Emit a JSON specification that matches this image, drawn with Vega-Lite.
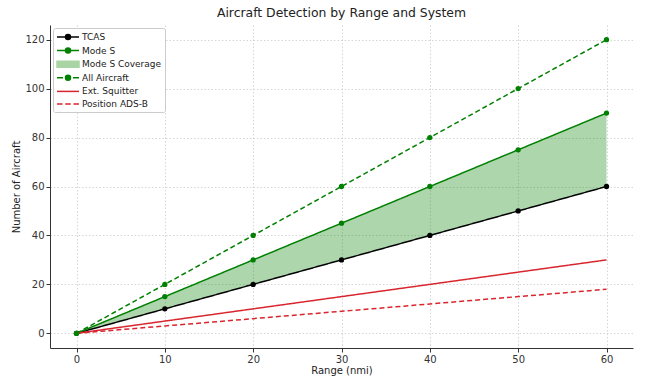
{
  "$schema": "https://vega.github.io/schema/vega-lite/v6.json",
  "autosize": "none",
  "width": 583,
  "height": 323,
  "padding": {"left": 50, "top": 25, "right": 23, "bottom": 35},
  "background": "white",
  "config": {
    "font": "DejaVu Sans",
    "view": {"stroke": null},
    "axis": {
      "labelFont": "DejaVu Sans",
      "titleFont": "DejaVu Sans",
      "labelFontSize": 10,
      "titleFontSize": 10,
      "titleFontWeight": "normal",
      "labelColor": "#333",
      "titleColor": "#222",
      "domainColor": "#333",
      "domainWidth": 1,
      "tickColor": "#333",
      "tickSize": 4,
      "labelPadding": 2,
      "grid": true,
      "gridColor": "#cccccc",
      "gridDash": [1.5, 2],
      "gridWidth": 0.8
    }
  },
  "title": {"text": "Aircraft Detection by Range and System", "fontSize": 12.4, "fontWeight": "normal", "font": "DejaVu Sans", "color": "#222", "offset": 6},
  "data": {
    "values": [
      {"series": "TCAS", "range": 0, "count": 0},
      {"series": "TCAS", "range": 10, "count": 10},
      {"series": "TCAS", "range": 20, "count": 20},
      {"series": "TCAS", "range": 30, "count": 30},
      {"series": "TCAS", "range": 40, "count": 40},
      {"series": "TCAS", "range": 50, "count": 50},
      {"series": "TCAS", "range": 60, "count": 60},
      {"series": "Mode S", "range": 0, "count": 0},
      {"series": "Mode S", "range": 10, "count": 15},
      {"series": "Mode S", "range": 20, "count": 30},
      {"series": "Mode S", "range": 30, "count": 45},
      {"series": "Mode S", "range": 40, "count": 60},
      {"series": "Mode S", "range": 50, "count": 75},
      {"series": "Mode S", "range": 60, "count": 90},
      {"series": "All Aircraft", "range": 0, "count": 0},
      {"series": "All Aircraft", "range": 10, "count": 20},
      {"series": "All Aircraft", "range": 20, "count": 40},
      {"series": "All Aircraft", "range": 30, "count": 60},
      {"series": "All Aircraft", "range": 40, "count": 80},
      {"series": "All Aircraft", "range": 50, "count": 100},
      {"series": "All Aircraft", "range": 60, "count": 120},
      {"series": "Ext. Squitter", "range": 0, "count": 0},
      {"series": "Ext. Squitter", "range": 10, "count": 5},
      {"series": "Ext. Squitter", "range": 20, "count": 10},
      {"series": "Ext. Squitter", "range": 30, "count": 15},
      {"series": "Ext. Squitter", "range": 40, "count": 20},
      {"series": "Ext. Squitter", "range": 50, "count": 25},
      {"series": "Ext. Squitter", "range": 60, "count": 30},
      {"series": "Position ADS-B", "range": 0, "count": 0},
      {"series": "Position ADS-B", "range": 10, "count": 3},
      {"series": "Position ADS-B", "range": 20, "count": 6},
      {"series": "Position ADS-B", "range": 30, "count": 9},
      {"series": "Position ADS-B", "range": 40, "count": 12},
      {"series": "Position ADS-B", "range": 50, "count": 15},
      {"series": "Position ADS-B", "range": 60, "count": 18}
    ]
  },
  "layer": [
    {
      "transform": [
        {"filter": {"field": "series", "oneOf": ["TCAS", "Mode S"]}},
        {"pivot": "series", "value": "count", "groupby": ["range"]}
      ],
      "mark": {"type": "area", "color": "#008000", "opacity": 0.32},
      "encoding": {
        "x": {"field": "range", "type": "quantitative", "scale": {"domain": [-3, 63], "nice": false, "zero": false},
              "axis": {"values": [0, 10, 20, 30, 40, 50, 60], "title": "Range (nmi)", "titlePadding": 1}},
        "y": {"field": "TCAS", "type": "quantitative", "scale": {"domain": [-6, 126], "nice": false, "zero": false},
              "axis": {"values": [0, 20, 40, 60, 80, 100, 120], "title": "Number of Aircraft", "titlePadding": 3}},
        "y2": {"field": "Mode S"}
      }
    },
    {
      "mark": {"type": "line", "strokeWidth": 1.5},
      "encoding": {
        "x": {"field": "range", "type": "quantitative"},
        "y": {"field": "count", "type": "quantitative"},
        "detail": {"field": "series"},
        "color": {
          "field": "series", "type": "nominal",
          "scale": {
            "domain": ["TCAS", "Mode S", "Mode S Coverage", "All Aircraft", "Ext. Squitter", "Position ADS-B"],
            "range": ["#000000", "#008000", "#a8d5a3", "#008000", "#d9262e", "#d9262e"]
          },
          "legend": {
            "title": null,
            "orient": "none",
            "legendX": 3,
            "legendY": 3,
            "padding": 3,
            "rowPadding": 1.6,
            "fillColor": "white",
            "strokeColor": "#cccccc",
            "cornerRadius": 2,
            "labelFont": "DejaVu Sans",
            "labelFontSize": 9,
            "labelColor": "#222",
            "symbolSize": 100,
            "symbolStrokeWidth": 1.5,
            "symbolOffset": 6,
            "labelOffset": 8,
            "encode": {
              "symbols": {
                "update": {
                  "shape": {"signal": "datum.value === 'TCAS' || datum.value === 'Mode S' ? 'M-2.2,0H2.2M0.5,0A0.5,0.5,0,1,1,-0.5,0A0.5,0.5,0,1,1,0.5,0' : datum.value === 'Mode S Coverage' ? 'M-2.2,-0.6H2.2V0.6H-2.2Z' : datum.value === 'All Aircraft' ? 'M-2.2,0H-1M1,0H2.2M0.5,0A0.5,0.5,0,1,1,-0.5,0A0.5,0.5,0,1,1,0.5,0' : datum.value === 'Ext. Squitter' ? 'M-2.2,0H2.2' : 'M-2.2,0H-1.1M-0.55,0H0.55M1.1,0H2.2'"},
                  "fill": {"signal": "scale('color', datum.value)"},
                  "stroke": {"signal": "scale('color', datum.value)"},
                  "strokeDash": {"value": []},
                  "opacity": {"value": 1},
                  "fillOpacity": {"value": 1}
                }
              }
            }
          }
        },
        "strokeDash": {
          "field": "series", "type": "nominal",
          "scale": {
            "domain": ["TCAS", "Mode S", "All Aircraft", "Ext. Squitter", "Position ADS-B"],
            "range": [[1, 0], [1, 0], [5, 3], [1, 0], [5, 3]]
          },
          "legend": null
        }
      }
    },
    {
      "transform": [{"filter": {"field": "series", "oneOf": ["TCAS", "Mode S", "All Aircraft"]}}],
      "mark": {"type": "point", "filled": true, "size": 28, "opacity": 1},
      "encoding": {
        "x": {"field": "range", "type": "quantitative"},
        "y": {"field": "count", "type": "quantitative"},
        "color": {"field": "series", "type": "nominal", "legend": null}
      }
    }
  ]
}
